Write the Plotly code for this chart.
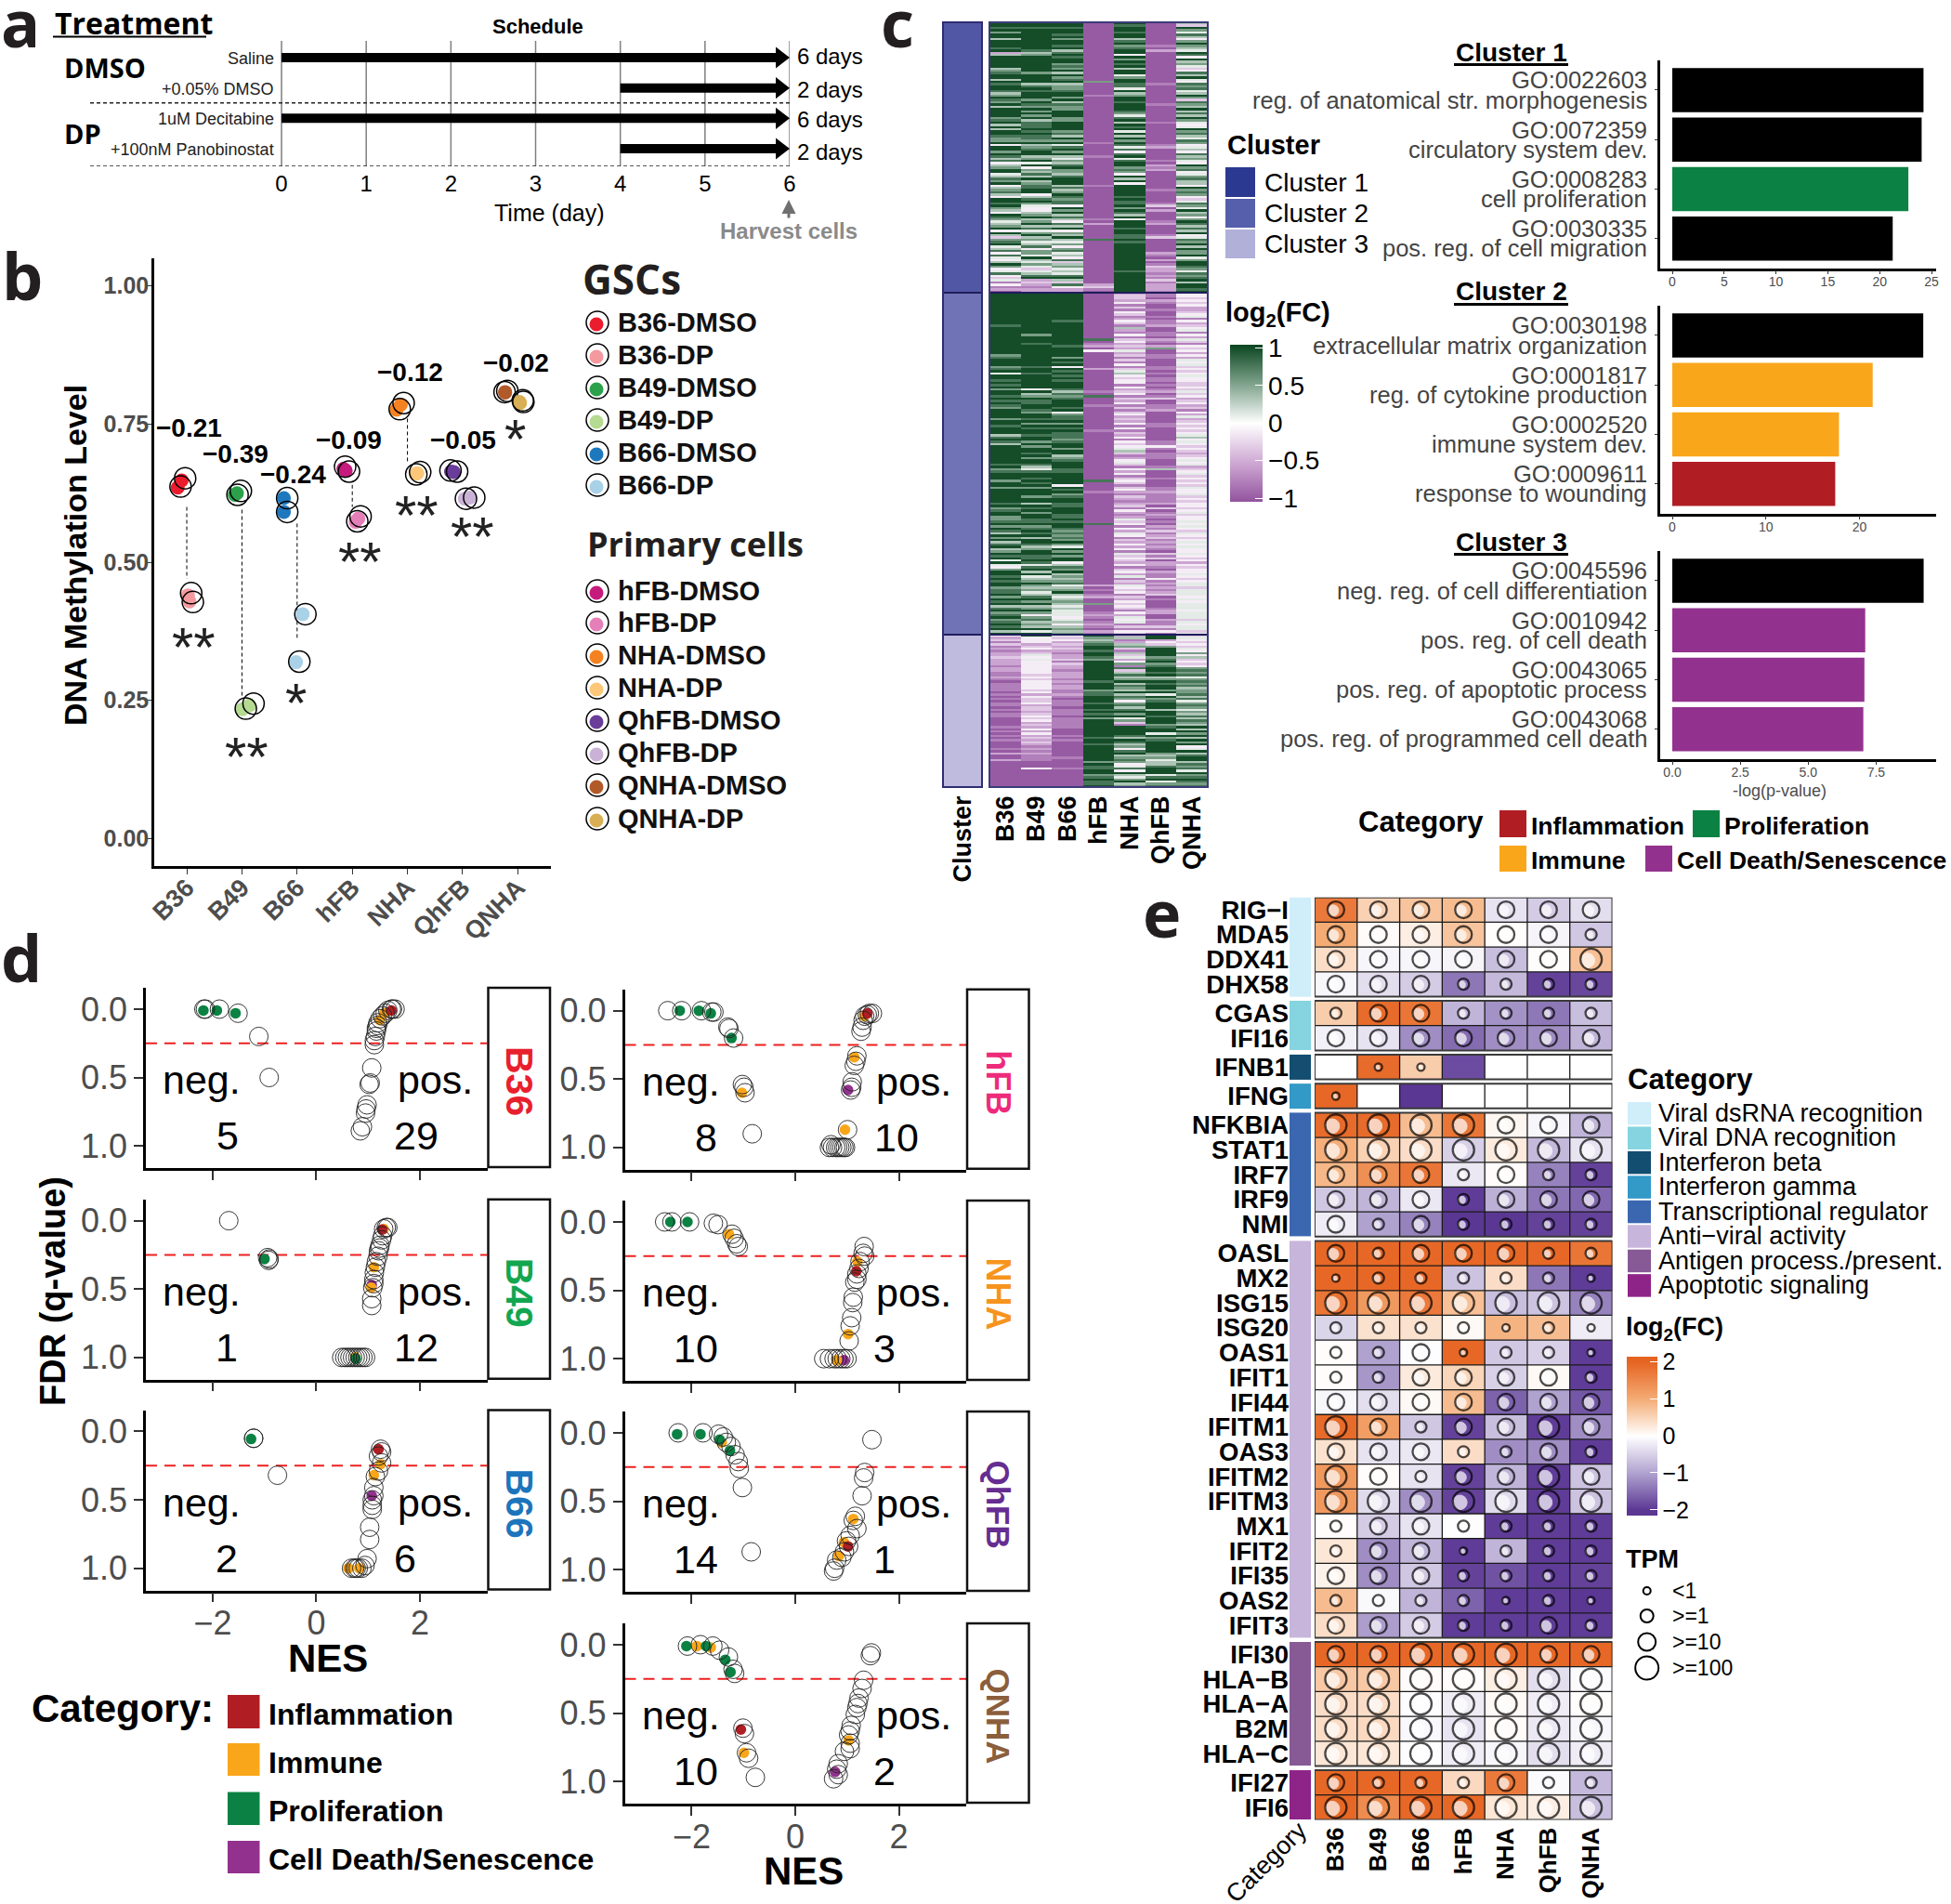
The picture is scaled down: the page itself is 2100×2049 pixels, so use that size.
import numpy as np
import plotly.graph_objects as go

W, H = 2100, 2049
BASE = "Liberation Sans"
MYRIAD = "Open Sans"
DARK = "#4d4d4d"

# Panel a: schedule
treat_labels = ["Saline", "+0.05% DMSO", "1uM Decitabine", "+100nM Panobinostat"]
treat_start = [0, 4, 0, 4]
treat_days = ["6 days", "2 days", "6 days", "2 days"]
days = [0, 1, 2, 3, 4, 5, 6]

# Panel b: methylation, positions in category units, ring then dot
b_categories = ["B36", "B49", "B66", "hFB", "NHA", "QhFB", "QNHA"]
b_samples = ["B36-DMSO", "B36-DP", "B49-DMSO", "B49-DP", "B66-DMSO", "B66-DP", "hFB-DMSO", "hFB-DP",
             "NHA-DMSO", "NHA-DP", "QhFB-DMSO", "QhFB-DP", "QNHA-DMSO", "QNHA-DP"]
b_colors = ["#EB1C2D", "#F4999E", "#2CA14B", "#B5DA92", "#1E78BE", "#A9D1E8", "#C51B7D", "#E57FB8",
            "#F58220", "#FDC77A", "#6A3D9A", "#CAB2D6", "#B15928", "#D9AF55"]
b_ring_x = [[.97, .887], [1.08, 1.11], [1.98, 1.92], [2.21, 2.07], [2.82, 2.82], [3.15, 3.04], [3.87, 3.94],
            [4.15, 4.09], [4.93, 4.86], [5.23, 5.16], [5.78, 5.90], [6.21, 6.06], [6.81, 6.76], [7.09, 7.10]]
b_ring_y = [[.652, .637], [.444, .428], [.629, .622], [.244, .235], [.616, .591], [.406, .32], [.673, .664],
            [.583, .574], [.788, .777], [.663, .659], [.666, .664], [.617, .615], [.81, .808], [.793, .79]]
b_dot_x = [[.907, .835], [1.02, 1.05], [1.91, 1.87], [2.14, 2.01], [2.76, 2.76], [3.10, 2.98], [3.84, 3.88],
           [4.11, 4.06], [4.88, 4.80], [5.18, 5.15], [5.79, 5.84], [6.13, 6.04], [6.77, 6.77], [7.03, 7.04]]
b_dot_y = [[.648, .635], [.44, .429], [.625, .622], [.241, .234], [.616, .591], [.406, .319], [.669, .666],
           [.579, .573], [.785, .776], [.661, .66], [.664, .663], [.617, .615], [.808, .807], [.79, .788]]
b_link_x = [1, 2, 3, 4, 5]
b_link_top = [.60, .595, .57, .64, .76]
b_link_bottom = [.47, .255, .36, .60, .68]

# Panel c: heatmap columns, one digit per row, 0 = -1 and 9 = +1
c_columns = ["B36", "B49", "B66", "hFB", "NHA", "QhFB", "QNHA"]
cluster_sizes = [291, 368, 164]
c1_b36 = "9989799699 9892699999 6789969899 8679879699 9978969699 8779499798 6846799568 7946786499 8976498756 7949637895 6848546974 5843514120"
c1_b49 = "9989999999 9986799999 9979999689 8999798797 9796888989 8879678996 7959476869 6788994689 7544679679 6857967568 4775965753 5689232122"
c1_b66 = "9989989799 8968989978 7969789677 8997968779 9977999978 6979589796 5768977689 9968679878 8497968648 6947696574 7856483675 6589638422"
c1_hfb = "0000000000 0000000000 0000007000 0010000000 0000000000 0001000001 0000000000 0010000000 0000000102 0000008000 0000000000 0000002310"
c1_nha = "9899899689 7899497989 6995799885 9679989998 7589698959 6979858489 5899787496 9499999898 8979869499 9899889899 9999999999 8999999999"
c1_qhfb = "0000000000 1020000000 0000000100 0000001000 0000100000 0000120000 0102120000 0000100000 1302000012 0000130000 0021020132 2121312221"
c1_qnha = "6397586479 7659849675 3486954878 5697387696 8697545978 6587456486 7549784578 6649787435 8759674798 6869458796 9779579987 5878969989"
c2_b36 = ("9999999999 9999899999 9999999789 9978959989 8979989898 7999979989 9968986999 9999989789 "
          "9979979999 9989789977 8979869796 8967989595 4799898997 8897989689 7897898969")
c2_b49 = ("9999999999 9999999979 9989999999 9989989999 9949679889 9879989798 9989979799 8979986589 "
          "9898979997 9969897998 8978989699 8679988985 8969567976 7568979679 7478676959")
c2_b66 = ("9999999999 9989999999 9998999979 8949898989 9986878999 8947889798 9888789979 9678999889 "
          "9999498978 9988999889 8998787879 7597979946 8796767856 7965676565 5545646767")
c2_hfb = ("0000000000 0000000000 8012040000 0002000000 0001080001 0000000000 1000000000 0000000000 "
          "0080000100 0000000000 0800000000 0000000000 0000000020 1012007000 1210121021")
c2_nha = ("2332413143 1243162141 3423252313 1413564344 1423413241 3134232414 1324143456 3124531424 "
          "1343134213 2123142125 3414254132 4241534324 1342513254 3413243431 4254513143")
c2_qhfb = ("1102100100 1011200110 2102700110 0011010110 1012013001 1200000110 0000011410 1110001600 "
           "0100011211 1120301210 1021312312 1210313022 1021141212 1230100012 2002113141")
c2_qnha = ("4434342234 5142345142 5314342425 4534345443 3435342342 3142523434 3456454343 2345452345 "
           "3434354453 4344345344 5454354345 4544543424 3445434553 5554545554 5553545535")
c3_b36 = "4231312122 3222122112 1011110101 0110101100 0010101010 0010200200 0000000000"
c3_b49 = "9444234235 4544444434 3444434243 3423323434 2324242323 2121211100 0400000000"
c3_b66 = "5342323212 2313221222 1212211210 1110111011 1110001010 0000001000 0100000000"
c3_hfb = "9767899899 8799999999 9899978899 9899898979 9999999899 8999999979 8899789889"
c3_nha = "2612673163 5247183686 7968769687 4786897957 3199998698 6748967874 5849657967"
c3_qhfb = "9924379999 7897899896 7989979597 8999699899 9789959789 9999767566 8999589578"
c3_qnha = "3543435474 6343478785 7878677868 5787576868 7696979697 9459689968 7859789878"

# Panel c: enrichment bars
go_c1_ids = ["GO:0022603", "GO:0072359", "GO:0008283", "GO:0030335"]
go_c1_terms = ["reg. of anatomical str. morphogenesis", "circulatory system dev.", "cell proliferation",
               "pos. reg. of cell migration"]
go_c1_values = [24.23, 24.05, 22.77, 21.26]
go_c1_cats = ["X", "X", "P", "X"]
go_c2_ids = ["GO:0030198", "GO:0001817", "GO:0002520", "GO:0009611"]
go_c2_terms = ["extracellular matrix organization", "reg. of cytokine production", "immune system dev.",
               "response to wounding"]
go_c2_values = [26.8, 21.4, 17.8, 17.4]
go_c2_cats = ["X", "M", "M", "I"]
go_c3_ids = ["GO:0045596", "GO:0010942", "GO:0043065", "GO:0043068"]
go_c3_terms = ["neg. reg. of cell differentiation", "pos. reg. of cell death", "pos. reg. of apoptotic process",
               "pos. reg. of programmed cell death"]
go_c3_values = [9.25, 7.1, 7.07, 7.03]
go_c3_cats = ["X", "C", "C", "C"]

# Panel d: (NES, FDR) rings and coloured dots
b36_rings = [(-2.17, 0), (-2.14, 0), (-1.87, 0), (-1.51, .03), (-1.11, .2), (-.91, .5), (1.47, 0), (1.52, 0), (1.45, 0),
             (1.38, .01), (1.33, .03), (1.28, .05), (1.23, .07), (1.19, .10), (1.18, .12), (1.16, .14), (1.16, .16),
             (1.14, .20), (1.12, .23), (1.12, .26), (1.07, .43), (1.04, .54), (1.02, .55), (.98, .70), (.96, .73),
             (.95, .76), (.89, .86), (.85, .89)]
b36_dots = [(-2.18, .01, "P"), (-1.92, .01, "P"), (-1.56, .03, "P"), (1.31, .03, "M"), (1.22, .08, "M"), (1.45, .01, "I")]
b49_rings = [(-1.69, 0), (-.94, .27), (-.91, .28), (-.92, .29), (1.38, .05), (1.35, .05), (1.30, .06), (1.28, .11),
             (1.26, .14), (1.23, .18), (1.22, .20), (1.2, .22), (1.19, .26), (1.16, .30), (1.14, .34), (1.12, .38),
             (1.11, .43), (1.11, .46), (1.09, .49), (1.07, .57), (1.07, .62), (.49, 1), (.55, 1), (.6, 1), (.65, 1),
             (.7, 1), (.75, 1), (.8, 1), (.85, 1), (.9, 1), (.95, 1)]
b49_dots = [(-1.0, .28, "P"), (1.30, .06, "M"), (1.27, .065, "I"), (1.11, .34, "M"), (1.07, .47, "C"), (1.06, .49, "M"),
            (.75, 1.0, "M"), (.76, 1.01, "P")]
b66_rings = [(-1.21, .05), (-1.21, .05), (-.75, .32), (1.24, .13), (1.26, .15), (1.2, .18), (1.26, .23), (1.2, .29),
             (1.14, .33), (1.11, .41), (1.11, .47), (1.08, .5), (1.08, .54), (1.08, .57), (1.03, .70), (1.03, .79),
             (.98, .93), (.94, .98), (.68, 1), (.74, 1), (.81, 1), (.88, 1), (.77, 1)]
b66_dots = [(-1.26, .055, "P"), (1.2, .13, "I"), (1.24, .24, "M"), (1.11, .32, "M"), (1.07, .47, "C"), (.62, 1.0, "M"),
            (.83, 1.0, "M")]
hfb_rings = [(-2.46, 0), (-2.19, 0), (-1.81, 0), (-1.61, .01), (-1.57, .01), (-1.30, .12), (-1.28, .13), (-1.19, .2),
             (-1.02, .54), (-.99, .56), (-.97, .6), (-.83, .9), (1.49, .02), (1.43, .02), (1.39, .03), (1.34, .04),
             (1.31, .07), (1.29, .12), (1.27, .15), (1.19, .33), (1.17, .37), (1.14, .4), (1.10, .52), (1.09, .56),
             (1.07, .58), (1.01, .87), (.69, .98), (.66, 1), (.72, 1), (.78, 1), (.82, 1), (.86, 1), (.9, 1), (.94, 1),
             (.97, 1)]
hfb_dots = [(-2.23, 0, "P"), (-1.86, 0, "P"), (-1.63, .02, "P"), (-1.23, .2, "P"), (-1.03, .6, "M"), (1.33, .04, "M"),
            (1.39, .02, "I"), (1.14, .34, "M"), (1.02, .58, "C"), (.96, .87, "M")]
nha_rings = [(-2.52, 0), (-2.38, 0), (-2.04, 0), (-1.58, .01), (-1.49, .02), (-1.22, .09), (-1.18, .12), (-1.13, .16),
             (-1.10, .18), (1.33, .18), (1.31, .23), (1.34, .25), (1.25, .29), (1.23, .34), (1.19, .38), (1.19, .42),
             (1.15, .44), (1.12, .55), (1.11, .59), (1.09, .70), (1.06, .76), (1.04, .87), (.55, 1), (.66, 1), (.75, 1),
             (.81, 1), (.88, 1), (.94, 1), (1.0, 1)]
nha_dots = [(-2.41, 0, "P"), (-2.08, 0, "P"), (-1.28, .09, "M"), (1.2, .29, "M"), (1.18, .36, "I"), (1.02, .82, "M"),
            (.94, 1.01, "C"), (.80, 1.01, "M")]
qhfb_rings = [(-2.26, 0), (-1.78, 0), (-1.48, .01), (-1.39, .03), (-1.33, .07), (-1.24, .1), (-1.16, .16), (-1.10, .21),
              (-1.08, .26), (-1.02, .4), (-.85, .87), (1.48, .05), (1.34, .29), (1.32, .33), (1.29, .46), (1.16, .61),
              (1.12, .64), (1.19, .7), (1.06, .75), (.99, .79), (1.03, .83), (.95, .87), (.90, .91), (.8, .93), (.76, .99),
              (.74, 1.01)]
qhfb_dots = [(-2.28, .01, "P"), (-1.83, .01, "P"), (-1.42, .07, "M"), (-1.46, .05, "P"), (-1.26, .13, "P"), (1.12, .63, "M"),
             (.94, .8, "M"), (1.02, .83, "I"), (.84, .9, "M")]
qnha_rings = [(-2.08, .01), (-1.83, 0), (-1.59, .01), (-1.46, .04), (-1.29, .09), (-1.2, .18), (-1.17, .21), (-1.01, .61),
              (-.98, .65), (-.94, .79), (-.9, .83), (-.77, .97), (1.47, .06), (1.45, .08), (1.32, .26), (1.29, .32),
              (1.23, .39), (1.21, .43), (1.19, .46), (1.16, .51), (1.08, .59), (1.06, .63), (1.03, .66), (1.06, .72),
              (1.06, .76), (.95, .78), (.83, .87), (.8, .91), (.83, .95), (.74, .98)]
qnha_dots = [(-2.1, .01, "P"), (-1.9, .01, "M"), (-1.63, .02, "M"), (-1.72, .01, "P"), (-1.35, .11, "P"), (-1.25, .2, "P"),
             (-1.05, .62, "I"), (-.99, .79, "M"), (1.03, .7, "M"), (.77, .93, "C")]

neg_counts = {"B36": 5, "B49": 1, "B66": 2, "hFB": 8, "NHA": 10, "QhFB": 14, "QNHA": 10}
pos_counts = {"B36": 29, "B49": 12, "B66": 6, "hFB": 10, "NHA": 3, "QhFB": 1, "QNHA": 2}
cat_colors = {"I": "#B01E23", "M": "#FAA61A", "P": "#0B8243", "C": "#93328E", "X": "#000000"}

# Panel e: log2FC and TPM class (0 none, 1 <1, 2 >=1, 3 >=10, 4 >=100)
e_columns = ["B36", "B49", "B66", "hFB", "NHA", "QhFB", "QNHA"]
e_group_colors = ["#CFEEFA", "#85D4E0", "#134E70", "#3399C7", "#3B67B1", "#C7B5DB", "#875A96", "#8E2488"]
e_group_names = ["Viral dsRNA recognition", "Viral DNA recognition", "Interferon beta", "Interferon gamma",
                 "Transcriptional regulator", "Anti−viral activity", "Antigen process./present.", "Apoptotic signaling"]
e_group_genes = [["RIG−I", "MDA5", "DDX41", "DHX58"], ["CGAS", "IFI16"], ["IFNB1"], ["IFNG"],
                 ["NFKBIA", "STAT1", "IRF7", "IRF9", "NMI"],
                 ["OASL", "MX2", "ISG15", "ISG20", "OAS1", "IFIT1", "IFI44", "IFITM1", "OAS3", "IFITM2", "IFITM3",
                  "MX1", "IFIT2", "IFI35", "OAS2", "IFIT3"],
                 ["IFI30", "HLA−B", "HLA−A", "B2M", "HLA−C"], ["IFI27", "IFI6"]]
e_fc = [
    [1.7, .55, .7, .8, -.3, -.55, -.35], [1.0, .05, .2, .7, .02, -.12, -.6], [.4, -.1, -.1, -.12, -.7, .02, .75],
    [-.1, -.35, -.55, -1.4, -.75, -1.9, -1.85],
    [.6, 1.9, 1.75, -.8, -1.15, -1.4, -.7], [-.15, -.3, -1.2, -1.5, -1.2, -1.2, -.8],
    [0, 1.9, .6, -1.8, 0, 0, 0],
    [1.95, 0, -2, 0, 0, 0, 0],
    [1.9, 1.9, .8, 1.75, .1, -.1, -.8], [.95, .55, .4, -.5, .25, -.75, -.3], [.85, 1.4, 1.75, -.25, .03, -1.3, -1.9],
    [-.6, -.8, -.25, -1.95, -.85, -1.4, -1.55], [-.2, -1.0, -1.3, -2, -2, -1.9, -1.9],
    [1.95, 1.95, 1.95, 1.95, 1.95, 1.95, 1.75], [1.95, 1.95, 1.95, -.65, .4, -1.4, -1.95],
    [1.75, 1.25, 1.7, .75, -.7, -.65, -1.3], [-.45, .35, .35, .07, .9, .8, -.2], [.03, -1.0, -.03, 1.95, -.6, -.5, -1.95],
    [.03, -1.1, .25, .5, -.5, .07, -1.95], [-.1, -.35, .07, .8, -1.6, -1.0, -1.7], [1.9, 1.2, -.6, -1.9, -.7, -1.95, -1.2],
    [.35, -.3, -.25, .4, -1.2, -1.2, -1.95], [1.25, .03, -.3, -1.9, -.8, -1.95, -.65], [1.25, -.4, -1.2, -1.9, -.4, -1.95, -.65],
    [.03, -.55, -.3, -.03, -1.95, -1.95, -1.95], [.3, -1.2, -.8, -1.95, -.8, -1.95, -1.95], [.15, -1.2, -.6, -1.9, -1.75, -1.95, -1.9],
    [.8, -.08, -.8, -1.6, -1.95, -1.95, -2], [.4, -1.05, -.55, -1.95, -1.95, -1.95, -1.95],
    [1.95, 1.95, 1.95, 1.95, 1.95, 1.95, 1.95], [.65, .65, .05, .03, .2, -.35, -.05], [.4, .4, -.03, -.2, .07, -.2, .02],
    [.4, .45, -.07, -.3, .05, -.25, -.1], [.3, .3, -.03, -.2, -.1, -.35, -.2],
    [1.95, 1.95, 1.95, .45, 1.7, -.05, -.75], [1.95, 1.45, 1.95, 1.95, .3, .2, -.7],
]
e_tpm = [
    "3333333", "3333332", "3333334", "3332222", "2332222", "3333333", "0110000", "1000000",
    "4444333", "4444444", "3332322", "3332333", "3232222",
    "3233322", "1222221", "4444444", "2222121", "2231221", "2233332", "3333333", "4323343", "3332232", "4323343",
    "4444444", "2332222", "2331222", "3332222", "2222121", "3332232",
    "3344433", "4444444", "4444444", "4444444", "4444444", "3222322", "4444444",
]

fig = go.Figure()
layout = {}
annotations = []
shapes = []
axis_count = 0


def add_axes(x0, x1, y0, y1, xopts=None, yopts=None):
    global axis_count
    axis_count += 1
    s = "" if axis_count == 1 else str(axis_count)
    base = dict(showgrid=False, zeroline=False, showline=False, showticklabels=False, ticks="", automargin=False)
    xa = dict(base, domain=[x0 / W, x1 / W], anchor="y" + s)
    xa.update(xopts or {})
    ya = dict(base, domain=[1 - y1 / H, 1 - y0 / H], anchor="x" + s)
    ya.update(yopts or {})
    layout["xaxis" + s] = xa
    layout["yaxis" + s] = ya
    return "x" + s, "y" + s


def note(x, y, text, size, color="black", anchor="center", weight="normal", family=BASE, angle=0):
    annotations.append(dict(x=x / W, y=1 - y / H, xref="paper", yref="paper", text=text, showarrow=False,
                            xanchor=anchor, yanchor="middle", textangle=angle,
                            font=dict(size=size, color=color, weight=weight, family=family)))


def box(x0, y0, x1, y1, fill="rgba(0,0,0,0)", line=None, width=0, kind="rect"):
    shapes.append(dict(type=kind, xref="paper", yref="paper", x0=x0 / W, x1=x1 / W, y0=1 - y0 / H, y1=1 - y1 / H,
                       fillcolor=fill, line=dict(color=line or fill, width=width)))


def rule(x0, y0, x1, y1, color="black", width=3):
    shapes.append(dict(type="line", xref="paper", yref="paper", x0=x0 / W, x1=x1 / W, y0=1 - y0 / H, y1=1 - y1 / H,
                       line=dict(color=color, width=width)))


# panel letters
for letter, lx, ly in [("a", 22, 24), ("b", 24, 296), ("c", 966, 24), ("d", 23, 1030), ("e", 1250, 982)]:
    note(lx, ly, letter, 70, color="#231f20", weight="bold", family=MYRIAD)

# ---------- panel a
xa, ya = add_axes(97, 850, 44, 179,
                  dict(range=[-2.26, 6], showticklabels=True, tickvals=days, ticklabelstandoff=2,
                       tickfont=dict(size=24, color="black")),
                  dict(range=[3.58, -.55]))
for d in days:
    fig.add_trace(go.Scatter(x=[d, d], y=[-.55, 3.58], mode="lines", line=dict(color="#7f7f7f", width=1.5),
                             xaxis=xa, yaxis=ya, cliponaxis=False, showlegend=False))
for dash_y in [1.49, 3.58]:
    fig.add_trace(go.Scatter(x=[-2.26, 6], y=[dash_y, dash_y], mode="lines", cliponaxis=False,
                             line=dict(color="#222", width=1.5, dash="4px,3px"), xaxis=xa, yaxis=ya, showlegend=False))
for i, st in enumerate(treat_start):
    fig.add_trace(go.Scatter(x=[st, 5.89], y=[i, i], mode="lines", line=dict(color="black", width=10),
                             xaxis=xa, yaxis=ya, showlegend=False))
    fig.add_trace(go.Scatter(x=[5.89], y=[i], mode="markers", cliponaxis=False, xaxis=xa, yaxis=ya, showlegend=False,
                             marker=dict(symbol="triangle-right", size=20, color="black")))
    note(297, 62 + 32.7 * i + 1, treat_labels[i], 18, color="#222", anchor="right")
    note(856, [61, 96, 128, 163][i], treat_days[i], 24, anchor="left")
note(57, 24, "Treatment", 32, weight="bold", family=MYRIAD, anchor="left")
rule(57, 39.5, 222, 39.5, width=2)
note(579, 29, "Schedule", 22, weight="bold")
note(67, 72, "DMSO", 29, weight="bold", family=MYRIAD, anchor="left")
note(67, 143, "DP", 29, weight="bold", family=MYRIAD, anchor="left")
note(591, 229, "Time (day)", 25)
note(849, 248, "Harvest cells", 24, color="#8a8a8a", weight="bold")
annotations.append(dict(x=849 / W, y=1 - 215 / H, xref="paper", yref="paper", axref="pixel", ayref="pixel", ax=0, ay=21,
                        text="", showarrow=True, arrowhead=2, arrowsize=1, arrowwidth=3, arrowcolor="#6f6f6f"))

# ---------- panel b
xb, yb = add_axes(166, 593, 278, 932,
                  dict(range=[.41, 7.6], showline=True, linecolor="black", linewidth=2.5, showticklabels=True,
                       tickvals=list(range(1, 8)), ticktext=b_categories, tickangle=-45, ticks="outside", ticklen=6,
                       ticklabelstandoff=-12, tickcolor="#333", tickfont=dict(size=27, color=DARK, weight="bold")),
                  dict(range=[-.05, 1.05], showline=True, linecolor="black", linewidth=2.5, showticklabels=True,
                       tickvals=[0, .25, .5, .75, 1], ticktext=["0.00", "0.25", "0.50", "0.75", "1.00"], ticklabelstandoff=-8,
                       ticks="outside", ticklen=6, tickcolor="#333", tickfont=dict(size=25, color=DARK, weight="bold")))
for lx, lt, lb in zip(b_link_x, b_link_top, b_link_bottom):
    fig.add_trace(go.Scatter(x=[lx, lx], y=[lt, lb], mode="lines", line=dict(color="black", width=1, dash="4px,3px"),
                             xaxis=xb, yaxis=yb, showlegend=False))
for i, color in enumerate(b_colors):
    fig.add_trace(go.Scatter(x=b_dot_x[i], y=b_dot_y[i], mode="markers", xaxis=xb, yaxis=yb, showlegend=False,
                             name=b_samples[i], marker=dict(size=15, color=color)))
    fig.add_trace(go.Scatter(x=b_ring_x[i], y=b_ring_y[i], mode="markers", xaxis=xb, yaxis=yb, showlegend=False,
                             marker=dict(size=23, symbol="circle-open", color="black", line=dict(width=1.5))))
note(81, 598, "DNA Methylation Level", 34, weight="bold", angle=-90)
for txt, tx, ty in [("−0.21", 203, 460), ("−0.39", 253, 488), ("−0.24", 315, 510), ("−0.09", 375, 474),
                    ("−0.12", 441, 401), ("−0.05", 498, 474), ("−0.02", 555, 390)]:
    note(tx, ty, txt, 28, weight="bold")
for txt, tx, ty in [("**", 208, 688), ("**", 265, 806), ("*", 318, 748), ("**", 387, 596), ("**", 448, 547),
                    ("**", 508, 569), ("*", 554, 464)]:
    note(tx, ty + 8, txt, 60, color="#222")
note(625, 300, "GSCs", 44, color="#231f20", weight="bold", family=MYRIAD, anchor="left")
note(630, 586, "Primary cells", 36, color="#231f20", weight="bold", family=MYRIAD, anchor="left")
legend_y = [347, 382, 417, 452, 487, 522, 636, 670, 705, 740, 775, 810, 845, 881]
for name, color, ly in zip(b_samples, b_colors, legend_y):
    box(642 - 7.5, ly + 2 - 7.5, 642 + 7.5, ly + 2 + 7.5, fill=color, kind="circle")
    box(643 - 12, ly - 12, 643 + 12, ly + 12, line="black", width=1.5, kind="circle")
    note(663, ly, name, 29, anchor="left", weight="bold", color="#111")

# ---------- panel c heatmap
xcc, ycc = add_axes(1015, 1057, 24, 847,
                    dict(range=[-.5, .5], showticklabels=True, tickvals=[0], ticktext=["Cluster"], tickangle=-90,
                         ticklabelstandoff=3, tickfont=dict(size=27, weight="bold")),
                    dict(range=[sum(cluster_sizes), 0]))
edges = np.cumsum([0] + cluster_sizes)
fig.add_trace(go.Heatmap(z=[[1], [2], [3]], x0=0, dx=1, y=edges, xaxis=xcc, yaxis=ycc, showscale=False, zmin=1, zmax=3,
                         colorscale=[[0, "#5156A5"], [.5, "#7073B5"], [1, "#BEBBDF"]], hoverinfo="skip"))


def levels(s):
    return [(int(ch) - 4.5) / 4.5 for ch in s.replace(" ", "")]


heat_rows = np.vstack([
    np.array([levels(c) for c in (c1_b36, c1_b49, c1_b66, c1_hfb, c1_nha, c1_qhfb, c1_qnha)]).T,
    np.array([levels(c) for c in (c2_b36, c2_b49, c2_b66, c2_hfb, c2_nha, c2_qhfb, c2_qnha)]).T,
    np.array([levels(c) for c in (c3_b36, c3_b49, c3_b66, c3_hfb, c3_nha, c3_qhfb, c3_qnha)]).T,
])
n_rows = [len(c1_b36.replace(" ", "")), len(c2_b36.replace(" ", "")), len(c3_b36.replace(" ", ""))]
heat_edges = np.concatenate([np.linspace(edges[0], edges[1], n_rows[0] + 1),
                             np.linspace(edges[1], edges[2], n_rows[1] + 1)[1:],
                             np.linspace(edges[2], edges[3], n_rows[2] + 1)[1:]])
xh, yh = add_axes(1065, 1300, 24, 847,
                  dict(range=[-.5, 6.5], showticklabels=True, tickvals=list(range(7)), ticktext=c_columns, tickangle=-90,
                       ticklabelstandoff=3, tickfont=dict(size=27, weight="bold")),
                  dict(range=[sum(cluster_sizes), 0]))
fig.add_trace(go.Heatmap(z=heat_rows, x0=0, dx=1, y=heat_edges, xaxis=xh, yaxis=yh, coloraxis="coloraxis", hoverinfo="skip"))
for cut in edges[1:-1]:
    fig.add_trace(go.Scatter(x=[-.5, 6.5], y=[cut, cut], mode="lines", line=dict(color="#1f1d5c", width=2),
                             xaxis=xh, yaxis=yh, showlegend=False))
    fig.add_trace(go.Scatter(x=[-.5, .5], y=[cut, cut], mode="lines", line=dict(color="#1f1d5c", width=2),
                             xaxis=xcc, yaxis=ycc, showlegend=False))
box(1015, 24, 1057, 847, line="#2e2c72", width=2)
box(1065, 24, 1300, 847, line="#3c3a78", width=2)

layout["coloraxis"] = dict(cmin=-1.045, cmax=1.045,
                           colorscale=[[0, "#92549E"], [.25, "#CFA9D4"], [.5, "#FFFFFF"], [.75, "#7FA38C"], [1, "#0A451F"]],
                           colorbar=dict(x=1323.5 / W, xanchor="left", y=1 - 370.7 / H, yanchor="top", len=169.3,
                                         lenmode="pixels", thickness=35, thicknessmode="pixels", xpad=0, ypad=0,
                                         outlinewidth=0, ticks="inside", tickcolor="white", ticklen=8,
                                         tickvals=[1, .5, 0, -.5, -1], ticktext=["1", "0.5", "0", "−0.5", "−1"],
                                         tickfont=dict(size=28, color="black")))
note(1319, 156, "Cluster", 29, anchor="left", weight="bold")
for txt, col, y0, y1 in [("Cluster 1", "#2B3990", 180, 212), ("Cluster 2", "#565FAC", 214, 245), ("Cluster 3", "#B0B0D9", 247, 278)]:
    box(1319, y0, 1351, y1, fill=col)
    note(1359, (y0 + y1) / 2, txt, 28, anchor="left")
note(1317, 338, "log<sub>2</sub>(FC)", 29, anchor="left", weight="bold")


# ---------- panel c bars
def go_panel(ids, terms, values, cats, top, bottom, tickvals, ticktext, px_per_unit, title, title_y):
    xp, yp = add_axes(1787, 2084, top, bottom,
                      dict(range=[-13 / px_per_unit, 284 / px_per_unit], showline=True, linecolor="black", linewidth=2.5,
                           showticklabels=True, tickvals=tickvals, ticktext=ticktext, ticks="outside", ticklen=4,
                           ticklabelstandoff=-4, tickcolor="#333", tickfont=dict(size=14, color=DARK)),
                      dict(range=[3.6, -.6], showline=True, linecolor="black", linewidth=2.5, tickvals=[0, 1, 2, 3],
                           ticks="outside", ticklen=3, tickcolor="#333"))
    fig.add_trace(go.Bar(x=values, y=[0, 1, 2, 3], orientation="h", width=.89, xaxis=xp, yaxis=yp, showlegend=False,
                         marker=dict(color=[cat_colors[c] for c in cats], line=dict(width=0))))
    step = (bottom - top) / 4.2
    for i, (gid, term) in enumerate(zip(ids, terms)):
        cy = top + step * (i + .6)
        note(1775, cy - 10.6, gid, 25.5, color="#444", anchor="right")
        note(1775, cy + 10.6, term, 25.5, color="#444", anchor="right")
    note(1626.5, title_y, title, 28, weight="bold")
    rule(1565, title_y + 13.5, 1688, title_y + 13.5, width=3)


go_panel(go_c1_ids, go_c1_terms, go_c1_values, go_c1_cats, 65, 288.7, [0, 5, 10, 15, 20, 25],
         ["0", "5", "10", "15", "20", "25"], 11.16, "Cluster 1", 56)
go_panel(go_c2_ids, go_c2_terms, go_c2_values, go_c2_cats, 329, 552.7, [0, 10, 20], ["0", "10", "20"], 10.08,
         "Cluster 2", 314)
go_panel(go_c3_ids, go_c3_terms, go_c3_values, go_c3_cats, 593, 816.7, [0, 2.5, 5, 7.5],
         ["0.0", "2.5", "5.0", "7.5"], 29.25, "Cluster 3", 583)
note(1915, 851, "-log(p-value)", 18, color=DARK)
note(1460, 884, "Category", 31, anchor="left", weight="bold")
for txt, code, sx, tx, y0, y1 in [("Inflammation", "I", 1614, 1646, 872, 901), ("Proliferation", "P", 1822, 1854, 872, 901),
                                  ("Immune", "M", 1614, 1646, 910, 938), ("Cell Death/Senescence", "C", 1771, 1803, 910, 938)]:
    box(sx, y0, sx + 29, y1, fill=cat_colors[code])
    note(tx, (y0 + y1) / 2 + 2, txt, 26.5, anchor="left", weight="bold")

# ---------- panel d
facets = [
    ("B36", b36_rings, b36_dots, 157, 1063, 245, 448, "#E8202E", 41),
    ("B49", b49_rings, b49_dots, 157, 1290.7, 244, 448, "#12A650", 41),
    ("B66", b66_rings, b66_dots, 157, 1517.5, 244, 436, "#1C75BC", 41),
    ("hFB", hfb_rings, hfb_dots, 672.5, 1064.7, 760, 965, "#EE2A7B", 36),
    ("NHA", nha_rings, nha_dots, 672.5, 1292, 749, 951.6, "#F7941D", 36),
    ("QhFB", qhfb_rings, qhfb_dots, 672.5, 1519, 749, 952, "#662D91", 35),
    ("QNHA", qnha_rings, qnha_dots, 672.5, 1747, 749, 952, "#8B5E3C", 35),
]
for name, rings, dots, fx, fy, nx, px, strip_col, strip_size in facets:
    show_x = name in ("B66", "QNHA")
    xd, yd = add_axes(fx, fx + 367.5, fy, fy + 194,
                      dict(range=[-3.29, 3.30], showline=True, linecolor="black", linewidth=2.5, tickvals=[-2, 0, 2],
                           ticktext=["−2", "0", "2"], ticks="outside", ticklen=10, tickwidth=1.5, tickcolor="#333",
                           ticklabelstandoff=-8, showticklabels=show_x, tickfont=dict(size=36, color=DARK)),
                      dict(range=[1.162, -.156], showline=True, linecolor="black", linewidth=2.5, tickvals=[0, .5, 1],
                           ticktext=["0.0", "0.5", "1.0"], ticks="outside", ticklen=10, tickwidth=1.5, tickcolor="#333",
                           showticklabels=True, tickfont=dict(size=36, color=DARK)))
    fig.add_trace(go.Scatter(x=[-3.29, 3.30], y=[.25, .25], mode="lines", xaxis=xd, yaxis=yd, showlegend=False,
                             line=dict(color="#EE2020", width=2, dash="12px,8px")))
    fig.add_trace(go.Scatter(x=[d[0] for d in dots], y=[d[1] for d in dots], mode="markers", xaxis=xd, yaxis=yd,
                             showlegend=False, marker=dict(size=11.5, color=[cat_colors[d[2]] for d in dots])))
    fig.add_trace(go.Scatter(x=[r[0] for r in rings], y=[r[1] for r in rings], mode="markers", xaxis=xd, yaxis=yd,
                             showlegend=False, marker=dict(size=20, symbol="circle-open", color="#222", line=dict(width=.9))))
    zero_y = fy + 23
    note(fx + 16, zero_y + 76, "neg.", 43, anchor="left")
    note(fx + 268.5, zero_y + 76, "pos.", 43, anchor="left")
    note(nx, zero_y + 136, str(neg_counts[name]), 43)
    note(px, zero_y + 136, str(pos_counts[name]), 43)
    box(fx + 368.5, fy, fx + 435, fy + 193, line="#111", width=2.5)
    note(fx + 402, fy + 100, name, strip_size, color=strip_col, weight="bold", angle=90)
note(57, 1390, "FDR (q-value)", 38, weight="bold", angle=-90)
note(353, 1784, "NES", 42, weight="bold")
note(864.6, 2013, "NES", 42, weight="bold")
note(32, 1838, "Category:", 42, weight="bold", anchor="left")
for txt, code, y0, y1, ty in [("Inflammation", "I", 1824, 1860, 1845), ("Immune", "M", 1876, 1911, 1897),
                              ("Proliferation", "P", 1928.6, 1964, 1949), ("Cell Death/Senescence", "C", 1981, 2016, 2001)]:
    box(245, y0, 279.5, y1, fill=cat_colors[code])
    note(287, ty, txt, 32, weight="bold", anchor="left")

# ---------- panel e
GAP = .17
row_pos = []
group_rows = []
row = 0
for g, genes in enumerate(e_group_genes):
    rows = [row + i + g * GAP for i in range(len(genes))]
    group_rows.append(rows)
    row_pos += rows
    row += len(genes)
y_range = [row_pos[-1] + .5, -.5]
all_genes = [gene for genes in e_group_genes for gene in genes]

xec, yec = add_axes(1388, 1411, 965.7, 1958.4,
                    dict(range=[-.5, .5]),
                    dict(range=y_range, showticklabels=True, tickvals=row_pos, ticktext=all_genes,
                         tickfont=dict(size=27.5, weight="bold", color="black")))
xe, ye = add_axes(1415, 1735.5, 965.7, 1958.4,
                  dict(range=[-.5, 6.5], showticklabels=True, tickvals=list(range(7)), ticktext=e_columns, tickangle=-90,
                       ticklabelstandoff=2, tickfont=dict(size=26, weight="bold", color="black")),
                  dict(range=y_range))
layout["coloraxis2"] = dict(cmin=-2.14, cmax=2.14,
                            colorscale=[[0, "#5B3794"], [.0327, "#5B3794"], [.2664, "#B0A2CF"], [.5, "#FFFFFF"], [.7336, "#F4AB74"],
                                        [.9673, "#E66422"], [1, "#E66422"]],
                            colorbar=dict(x=1750.7 / W, xanchor="left", y=1 - 1459.5 / H, yanchor="top", len=170.5,
                                          lenmode="pixels", thickness=33, thicknessmode="pixels", xpad=0, ypad=0,
                                          outlinewidth=0, ticks="inside", tickcolor="white", ticklen=8,
                                          tickvals=[2, 1, 0, -1, -2], ticktext=["2", "1", "0", "−1", "−2"],
                                          tickfont=dict(size=25, color="black")))
idx = 0
for g, rows in enumerate(group_rows):
    n = len(rows)
    color = e_group_colors[g]
    fig.add_trace(go.Heatmap(z=[[1]] * n, x0=0, dx=1, y0=rows[0], dy=1, xaxis=xec, yaxis=yec, showscale=False,
                             colorscale=[[0, color], [1, color]], hoverinfo="skip"))
    fig.add_trace(go.Heatmap(z=e_fc[idx:idx + n], x0=0, dx=1, y0=rows[0], dy=1, xaxis=xe, yaxis=ye,
                             coloraxis="coloraxis2", hoverinfo="skip"))
    top, bottom = rows[0] - .5, rows[-1] + .5
    gx, gy = [], []
    for r in rows[:-1]:
        gx += [-.5, 6.5, None]
        gy += [r + .5, r + .5, None]
    for c in range(6):
        gx += [c + .5, c + .5, None]
        gy += [top, bottom, None]
    fig.add_trace(go.Scatter(x=gx, y=gy, mode="lines", line=dict(color="#1a1a1a", width=1.3), xaxis=xe, yaxis=ye,
                             showlegend=False, cliponaxis=False))
    fig.add_trace(go.Scatter(x=[-.5, 6.5, 6.5, -.5, -.5], y=[top, top, bottom, bottom, top], mode="lines",
                             line=dict(color="#3a3a3a", width=2), xaxis=xe, yaxis=ye, showlegend=False, cliponaxis=False))
    idx += n

ring_px = {1: 8, 2: 12, 3: 18, 4: 23}
ring_x, ring_y, ring_s, dot_x, dot_y, dot_s = [], [], [], [], [], []
for r, codes in zip(row_pos, e_tpm):
    for c, code in enumerate(codes):
        if code == "0":
            continue
        d = ring_px[int(code)]
        ring_x.append(c)
        ring_y.append(r)
        ring_s.append(d)
        dot_x.append(c - .17 * d / 45.8)
        dot_y.append(r + .05 * d / 26.7)
        dot_s.append(d * .68)
fig.add_trace(go.Scatter(x=dot_x, y=dot_y, mode="markers", marker=dict(size=dot_s, color="white"), xaxis=xe, yaxis=ye,
                         showlegend=False))
fig.add_trace(go.Scatter(x=ring_x, y=ring_y, mode="markers", xaxis=xe, yaxis=ye, showlegend=False,
                         marker=dict(size=ring_s, symbol="circle-open", color="black", line=dict(width=2.3))))
note(1363, 2004, "Category", 27, angle=-45)
note(1750, 1161, "Category", 31, weight="bold", anchor="left")
for i, (name, color) in enumerate(zip(e_group_names, e_group_colors)):
    sy = 1186 + 26.45 * i
    box(1752, sy, 1777, sy + 24.5, fill=color)
    note(1783, sy + 12, name, 27, anchor="left")
note(1748, 1430, "log<sub>2</sub>(FC)", 27, weight="bold", anchor="left")
note(1748, 1678, "TPM", 27, weight="bold", anchor="left")
for txt, d, ly in [("&lt;1", 8, 1712), ("&gt;=1", 14, 1739), ("&gt;=10", 19, 1767), ("&gt;=100", 25, 1795)]:
    box(1772.7 - d / 2, ly - d / 2, 1772.7 + d / 2, ly + d / 2, line="black", width=2, kind="circle")
    note(1798, ly, txt, 23, anchor="left")

fig.update_layout(**layout)
fig.update_layout(width=W, height=H, autosize=False, margin=dict(l=0, r=0, t=0, b=0, pad=0, autoexpand=False),
                  paper_bgcolor="white", plot_bgcolor="white", font=dict(family=BASE, color="black"),
                  annotations=annotations, shapes=shapes, showlegend=False, barmode="overlay")
fig.write_html("out.html", config={"displayModeBar": False}, post_script="document.body.style.margin='0';")
